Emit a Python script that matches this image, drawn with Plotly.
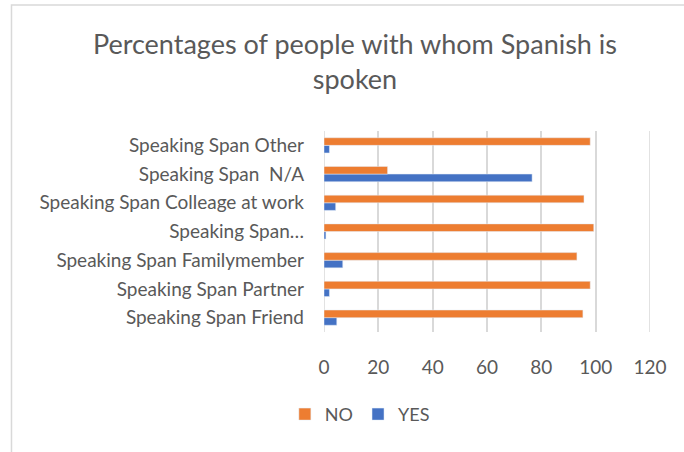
import plotly.graph_objects as go

# Survey categories, listed bottom to top as they appear on the axis
categories = [
    "Speaking Span Friend",
    "Speaking Span Partner",
    "Speaking Span Familymember",
    "Speaking Span…",
    "Speaking Span Colleage at work",
    "Speaking Span\u00a0\u00a0N/A",
    "Speaking Span Other",
]
no_values = [95.3, 98.0, 93.1, 99.3, 95.7, 23.4, 98.0]
yes_values = [4.7, 2.0, 6.9, 0.7, 4.3, 76.6, 2.0]
x_ticks = [0, 20, 40, 60, 80, 100, 120]

ORANGE = "#ED7D31"
BLUE = "#4472C4"
TEXT = "#595959"
GRID = "#D9D9D9"
FONT = "Lato, 'Open Sans', sans-serif"

fig = go.Figure()
# YES added first so it sits below NO inside each category group
fig.add_trace(go.Bar(y=categories, x=yes_values, name="YES", orientation="h",
                     marker=dict(color=BLUE), legendrank=2))
fig.add_trace(go.Bar(y=categories, x=no_values, name="NO", orientation="h",
                     marker=dict(color=ORANGE), legendrank=1))

# vertical guide lines at the axis ends (the interior ones come from the grid)
edge_lines = [
    dict(type="line", xref="x", yref="paper", x0=v, x1=v, y0=0, y1=1,
         line=dict(color=GRID, width=1.5), layer="below")
    for v in (x_ticks[0], x_ticks[-1])
]

fig.update_layout(
    width=684, height=452,
    margin=dict(l=324, r=34, t=131, b=120),
    paper_bgcolor="white", plot_bgcolor="white",
    barmode="group", bargap=0.47, bargroupgap=0,
    font=dict(family=FONT, color=TEXT),
    title=dict(text="Percentages of people with whom Spanish is<br>spoken",
               x=0.519, xanchor="center", xref="container",
               y=0.88, yanchor="middle",
               font=dict(size=27, color=TEXT, family=FONT)),
    showlegend=True,
    legend=dict(orientation="h", x=0.11, xanchor="center", y=-0.41, yanchor="middle",
                font=dict(size=18, color=TEXT), itemwidth=30, traceorder="normal"),
    xaxis=dict(range=[0, 120], tickvals=x_ticks, showgrid=True, gridcolor=GRID,
               gridwidth=1.5, zeroline=False, showline=False,
               tickfont=dict(size=19, color=TEXT), ticklabelstandoff=22),
    yaxis=dict(showgrid=False, zeroline=False, showline=False,
               tickfont=dict(size=19, color=TEXT), ticklabelstandoff=19),
    shapes=edge_lines + [
        dict(type="rect", xref="paper", yref="paper", x0=-0.9586, x1=1.3,
             y0=-0.7, y1=1.627, line=dict(color=GRID, width=1.5),
             fillcolor="rgba(0,0,0,0)"),
    ],
)

fig.write_html("out.html")
